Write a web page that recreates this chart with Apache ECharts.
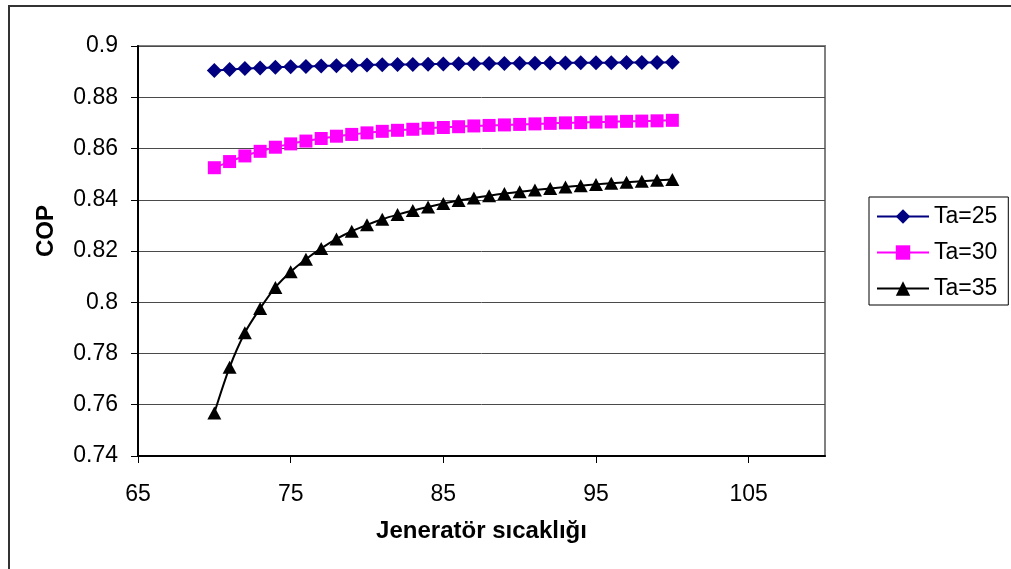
<!DOCTYPE html>
<html>
<head>
<meta charset="utf-8">
<title>COP - Jeneratör sıcaklığı</title>
<script src="https://cdn.jsdelivr.net/npm/echarts@6/dist/echarts.min.js"></script>
<style>
  html, body { margin: 0; padding: 0; background: #ffffff; }
  #chart { width: 1011px; height: 569px; }
</style>
</head>
<body>
<div id="chart"></div>
<script>
// Generator temperature (x values)
const genTemp = [70, 71, 72, 73, 74, 75, 76, 77, 78, 79, 80, 81, 82, 83, 84, 85,
                 86, 87, 88, 89, 90, 91, 92, 93, 94, 95, 96, 97, 98, 99, 100];

// COP for each ambient temperature
const copTa25 = [0.8904, 0.8908, 0.8912, 0.8914, 0.8917, 0.8919, 0.8920, 0.8922,
                 0.8923, 0.8924, 0.8926, 0.8927, 0.8928, 0.8928, 0.8929, 0.8930,
                 0.8931, 0.8931, 0.8932, 0.8932, 0.8933, 0.8933, 0.8934, 0.8934,
                 0.8935, 0.8935, 0.8935, 0.8936, 0.8936, 0.8936, 0.8937];
const copTa30 = [0.8525, 0.8549, 0.8571, 0.8589, 0.8605, 0.8618, 0.8629, 0.8639,
                 0.8648, 0.8655, 0.8661, 0.8667, 0.8671, 0.8675, 0.8679, 0.8682,
                 0.8685, 0.8688, 0.8690, 0.8692, 0.8694, 0.8696, 0.8698, 0.8700,
                 0.8701, 0.8703, 0.8704, 0.8706, 0.8707, 0.8708, 0.8710];
const copTa35 = [0.7568, 0.7746, 0.7881, 0.7976, 0.8058, 0.8119, 0.8168, 0.8210,
                 0.8247, 0.8277, 0.8302, 0.8324, 0.8342, 0.8358, 0.8372, 0.8385,
                 0.8397, 0.8407, 0.8416, 0.8424, 0.8431, 0.8438, 0.8444, 0.8450,
                 0.8455, 0.8460, 0.8464, 0.8468, 0.8472, 0.8476, 0.8479];

const seriesNames = ['Ta=25', 'Ta=30', 'Ta=35'];
const xTicks = [65, 75, 85, 95, 105];

const FONT = '"Liberation Sans", Arial, sans-serif';

function pairs(ys) {
  return genTemp.map((x, i) => [x, ys[i]]);
}

const chart = echarts.init(document.getElementById('chart'), null, { renderer: 'canvas' });

chart.setOption({
  animation: false,
  backgroundColor: '#ffffff',
  textStyle: { fontFamily: FONT },
  grid: {
    left: 138, top: 46, right: 186, bottom: 113,
    show: true, borderColor: '#808080', borderWidth: 2
  },
  xAxis: {
    type: 'value',
    min: 65, max: 110, interval: 10,
    name: 'Jeneratör sıcaklığı',
    nameLocation: 'middle',
    nameGap: 63,
    nameTextStyle: { fontFamily: FONT, fontSize: 24, fontWeight: 'bold', color: '#000' },
    axisLine: { onZero: false, lineStyle: { color: '#000', width: 2 } },
    axisTick: { show: true, inside: false, length: 7, customValues: xTicks, lineStyle: { color: '#000', width: 1 } },
    axisLabel: { customValues: xTicks, margin: 27, fontFamily: FONT, fontSize: 23, color: '#000' },
    splitLine: { show: false }
  },
  yAxis: {
    type: 'value',
    min: 0.74, max: 0.9, interval: 0.02,
    axisLine: { show: true, onZero: false, lineStyle: { color: '#000', width: 2 } },
    axisTick: { show: true, inside: false, length: 7, lineStyle: { color: '#000', width: 1 } },
    axisLabel: { margin: 20, fontFamily: FONT, fontSize: 23, color: '#000' },
    splitLine: { show: true, lineStyle: { color: '#4a4a4a', width: 1 } }
  },
  legend: {
    orient: 'vertical',
    left: 869, top: 197,
    data: seriesNames,
    itemWidth: 52, itemHeight: 18,
    itemGap: 13,
    padding: [8, 11, 5, 7],
    borderColor: '#000', borderWidth: 1,
    backgroundColor: '#fff',
    lineStyle: { width: 2 },
    textStyle: { fontFamily: FONT, fontSize: 23, color: '#000' }
  },
  graphic: [
    { type: 'line', shape: { x1: 8, y1: 6, x2: 1011, y2: 6 }, style: { stroke: '#333', lineWidth: 2 } },
    { type: 'line', shape: { x1: 9, y1: 6, x2: 9, y2: 569 }, style: { stroke: '#333', lineWidth: 2 } },
    {
      type: 'text', x: 46, y: 231, rotation: Math.PI / 2,
      style: { text: 'COP', font: 'bold 24px ' + FONT, fill: '#000', align: 'center', verticalAlign: 'middle' }
    }
  ],
  series: [
    {
      name: seriesNames[0], type: 'line', data: pairs(copTa25), smooth: 0.3,
      symbol: 'diamond', symbolSize: [15, 15],
      lineStyle: { color: '#000080', width: 2 },
      itemStyle: { color: '#000080' }
    },
    {
      name: seriesNames[1], type: 'line', data: pairs(copTa30), smooth: 0.3,
      symbol: 'rect', symbolSize: [13, 13],
      lineStyle: { color: '#ff00ff', width: 2 },
      itemStyle: { color: '#ff00ff' }
    },
    {
      name: seriesNames[2], type: 'line', data: pairs(copTa35), smooth: 0.3,
      symbol: 'triangle', symbolSize: [14, 13],
      lineStyle: { color: '#000000', width: 2 },
      itemStyle: { color: '#000000' }
    }
  ]
});
</script>
</body>
</html>
